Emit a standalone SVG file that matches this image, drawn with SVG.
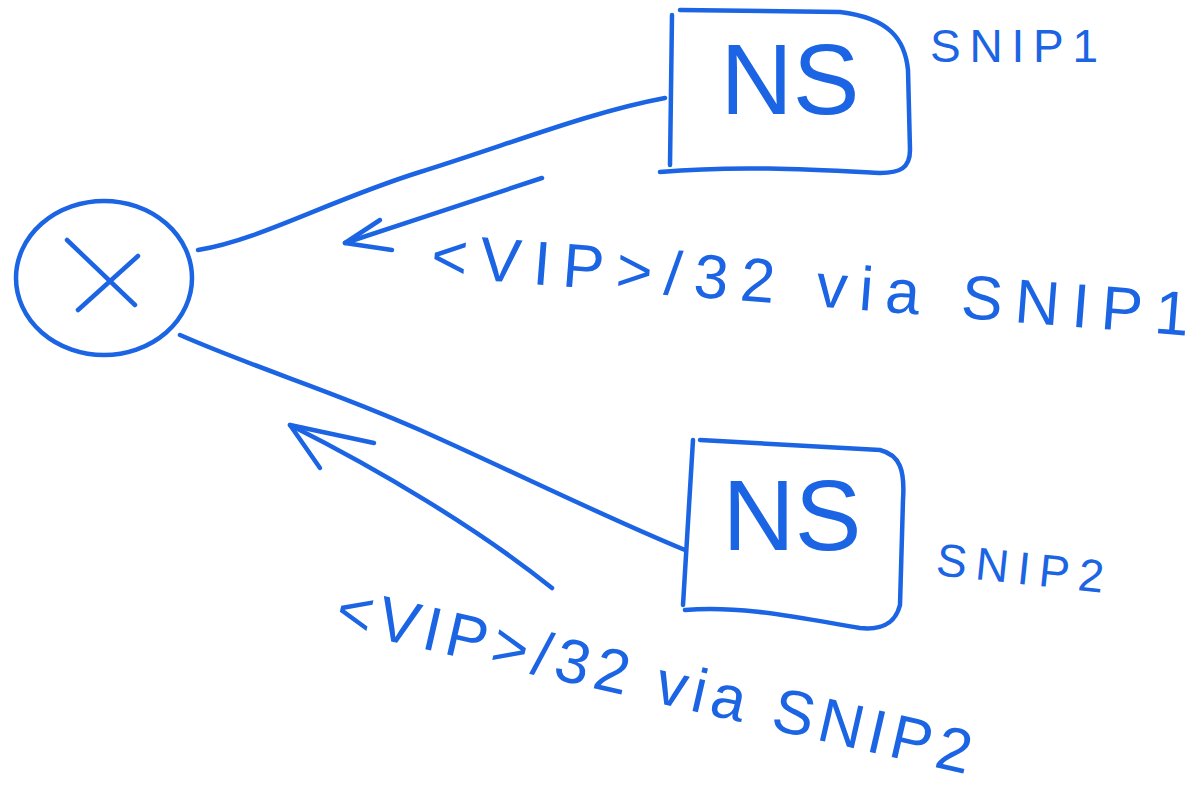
<svg xmlns="http://www.w3.org/2000/svg" width="1195" height="793" viewBox="0 0 1195 793">
<defs>
<style>
.ink{fill:none;stroke:#1b64e3;stroke-width:4.5;stroke-linecap:round;stroke-linejoin:round}
.txt{fill:#1b64e3;font-family:"Liberation Sans",Arial,sans-serif}
.ns{font-size:100px}
.lbl{font-size:46px}
.route{font-size:62px}
</style>
</defs>
<rect width="1195" height="793" fill="#ffffff"/>
<g id="connectors">
<path class="ink" d="M198,250 C260,240 330,200 420,172 C510,144 590,112 665,98"/>
<path class="ink" d="M180,335 C260,370 330,390 420,430 C510,470 600,515 685,550"/>
<g id="arrow1">
<path class="ink" d="M542,178 C480,198 410,222 345,243"/>
<path class="ink" d="M380,220 L345,243 L392,250"/>
</g>
<g id="arrow2">
<path class="ink" d="M552,588 C480,530 380,470 290,425"/>
<path class="ink" d="M290,425 L374,443 M290,425 L320,468"/>
</g>
</g>
<g id="node-x">
<ellipse class="ink" cx="104" cy="278" rx="88" ry="77"/>
<path class="ink" d="M67,240 L135,305 M78,310 L138,256"/>
</g>
<g id="node-ns1">
<path class="ink" d="M680,10 L840,12 C890,18 905,40 908,70 L910,150 C910,168 900,173 880,173 C820,170 740,165 660,172 M672,15 L670,165"/>
<text class="txt ns" x="790" y="114" text-anchor="middle">NS</text>
<text class="txt lbl" x="930" y="62" textLength="168" lengthAdjust="spacing">SNIP1</text>
</g>
<g id="node-ns2">
<path class="ink" d="M700,440 L880,450 C900,455 905,470 903,500 L900,605 C895,625 880,630 860,628 C800,618 740,605 685,610 M693,440 L683,605"/>
<text class="txt ns" x="792" y="550" text-anchor="middle">NS</text>
<text class="txt lbl" x="935" y="575" textLength="168" lengthAdjust="spacing" transform="rotate(6 935 575)">SNIP2</text>
</g>
<g id="label1">
<text class="txt route" x="430" y="276" textLength="760" lengthAdjust="spacing" transform="rotate(4.5 430 276)">&lt;VIP&gt;/32 via SNIP1</text>
</g>
<g id="label2">
<text class="txt route" x="333" y="628" textLength="650" lengthAdjust="spacing" transform="rotate(13 333 628)">&lt;VIP&gt;/32 via SNIP2</text>
</g>
</svg>
